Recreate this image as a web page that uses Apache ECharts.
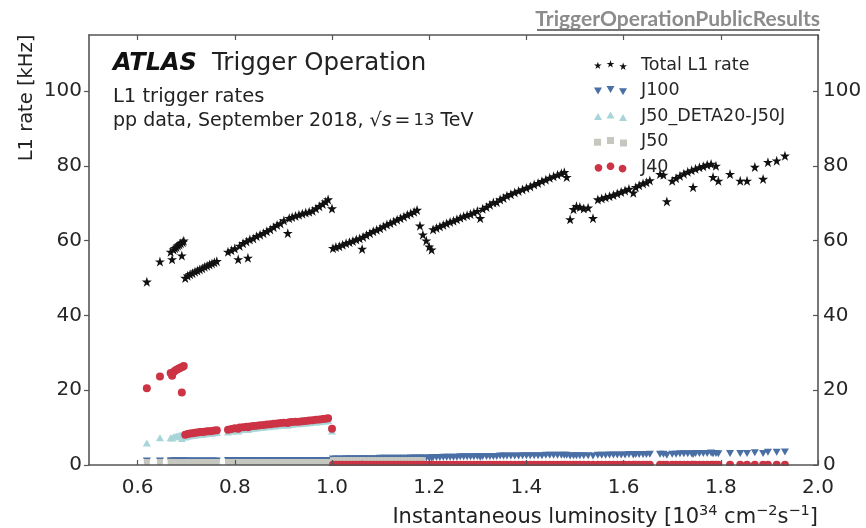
<!DOCTYPE html>
<html><head><meta charset="utf-8">
<script src="https://cdn.jsdelivr.net/npm/echarts@6/dist/echarts.min.js"></script>
<style>html,body{margin:0;padding:0;background:#fff}#c{width:866px;height:528px}</style>
</head><body><div id="c"></div>
<script>
// ---- data ----
const lumi = [
 0.619,0.646,0.668,0.671,0.674,0.677,0.680,0.683,0.686,0.689,0.691,0.693,0.695,
 0.698,0.703,0.708,0.713,0.718,0.723,0.728,0.733,0.738,0.743,0.748,0.753,0.758,0.763,
 0.786,0.793,0.800,0.807,0.810,0.817,0.824,0.827,0.831,0.838,0.845,0.852,0.859,0.866,0.873,0.880,0.887,0.894,0.901,0.909,0.912,0.918,0.925,0.932,0.939,0.946,0.953,0.960,0.967,0.974,0.981,0.987,0.992,1.000,
 1.002,1.008,1.015,1.022,1.029,1.036,1.043,1.050,1.057,1.062,1.064,1.071,1.078,1.085,1.092,1.099,1.106,1.113,1.120,1.127,1.134,1.141,1.148,1.155,1.162,1.169,1.175,
 1.181,1.187,1.194,1.200,1.205,
 1.208,1.215,1.222,1.229,1.236,1.243,1.250,1.257,1.264,1.271,1.278,1.285,1.292,1.299,1.305,1.310,1.318,1.325,1.332,1.339,1.346,1.353,1.360,1.368,1.376,1.384,1.392,1.400,1.408,1.416,1.424,1.432,1.440,1.448,1.456,1.464,1.472,1.478,1.483,
 1.490,1.497,1.503,1.510,1.518,1.527,1.537,
 1.547,1.555,1.563,1.571,1.579,1.587,1.595,1.603,1.611,1.620,1.625,1.632,1.640,1.647,1.654,1.675,1.682,1.689,
 1.700,1.708,1.716,1.724,1.732,1.740,1.743,1.748,1.756,1.764,1.772,1.780,1.784,1.790,1.795,1.819,1.840,1.854,1.870,1.887,1.897,1.915,1.932
];
const totalL1 = [
 49.0,54.4,57.0,55.0,57.6,58.0,58.3,58.7,59.0,59.3,56.0,59.6,60.0,
 50.0,50.6,51.0,51.3,51.7,52.0,52.3,52.6,53.0,53.3,53.6,53.9,54.2,54.5,
 57.0,57.4,57.9,55.0,58.6,59.3,59.8,55.4,60.3,60.6,61.2,61.6,62.0,62.5,63.0,63.6,64.2,64.6,65.4,62.0,66.0,66.3,66.6,66.9,67.2,67.5,67.7,68.0,68.6,69.2,69.8,70.4,71.0,68.6,
 58.0,58.3,58.5,58.9,59.3,59.6,59.9,60.3,60.6,57.8,61.0,61.5,62.0,62.5,62.9,63.3,63.8,64.3,64.7,65.1,65.6,66.0,66.4,66.9,67.3,67.7,68.2,
 64.0,61.6,60.0,58.4,57.6,
 63.0,63.4,63.8,64.2,64.6,65.0,65.3,65.7,66.1,66.5,66.8,67.1,67.5,67.9,66.0,68.5,69.0,69.6,70.2,70.3,71.0,71.4,72.0,72.4,72.9,73.3,73.7,74.1,74.5,75.0,75.4,75.9,76.3,76.8,77.2,77.6,78.0,78.3,77.0,
 65.7,68.4,69.2,69.0,68.6,68.8,66.0,
 71.0,71.3,71.6,71.9,72.2,72.6,73.0,73.4,73.8,72.8,74.3,74.8,75.3,75.6,76.1,77.8,77.6,70.5,
 76.0,76.7,77.3,77.9,78.4,78.8,74.3,79.2,79.6,79.9,80.3,80.5,77.0,80.0,76.0,77.8,76.0,76.0,79.7,76.5,81.0,81.4,82.7
];
const j100 = [
 1.1,1.1,1.1,1.1,1.1,1.1,1.1,1.1,1.1,1.1,1.1,1.1,1.1,
 1.1,1.1,1.1,1.1,1.1,1.1,1.1,1.1,1.1,1.1,1.1,1.1,1.1,1.1,
 1.2,1.2,1.2,1.2,1.2,1.2,1.2,1.2,1.2,1.2,1.2,1.2,1.2,1.2,1.2,1.2,1.2,1.2,1.2,1.2,1.2,1.2,1.2,1.2,1.2,1.2,1.2,1.2,1.2,1.2,1.2,1.2,1.2,1.2,
 1.6,1.6,1.6,1.6,1.7,1.7,1.7,1.7,1.7,1.6,1.7,1.7,1.7,1.7,1.7,1.8,1.8,1.8,1.8,1.8,1.8,1.8,1.8,1.8,1.9,1.9,1.9,
 1.9,1.9,1.9,1.9,1.9,
 2.0,2.0,2.0,2.1,2.1,2.1,2.1,2.1,2.2,2.2,2.2,2.2,2.2,2.3,2.1,2.3,2.3,2.3,2.3,2.3,2.4,2.4,2.4,2.4,2.4,2.4,2.5,2.5,2.5,2.5,2.5,2.5,2.6,2.6,2.6,2.6,2.6,2.6,2.6,
 2.4,2.5,2.5,2.5,2.5,2.5,2.4,
 2.6,2.6,2.6,2.7,2.7,2.7,2.7,2.7,2.8,2.7,2.8,2.8,2.8,2.8,2.9,2.9,2.9,2.6,
 2.9,2.9,3.0,3.0,3.0,3.0,2.8,3.1,3.1,3.1,3.1,3.2,3.0,3.1,3.0,3.1,3.1,3.1,3.3,3.1,3.4,3.4,3.5
];
// J50_DETA20-J50J: only the first points (lumi < 1.0) are visible
const j50deta = [
 5.9,7.3,7.3,7.2,7.5,7.6,7.7,7.8,7.9,8.0,7.1,8.1,8.2,
 7.5,7.7,7.8,7.9,8.0,8.1,8.2,8.2,8.3,8.4,8.4,8.5,8.6,8.7,
 8.8,9.0,9.2,9.1,9.4,9.5,9.6,9.5,9.7,9.8,9.9,10.0,10.1,10.2,10.3,10.4,10.5,10.6,10.7,10.6,10.8,10.9,11.0,11.0,11.1,11.2,11.3,11.4,11.5,11.6,11.7,11.8,11.9,9.1
];
// J50: visible up to lumi ~1.19
const j50 = [
 0.8,0.8,0.8,0.8,0.8,0.8,0.8,0.8,0.8,0.8,0.8,0.8,0.8,
 0.8,0.8,0.8,0.8,0.8,0.8,0.8,0.8,0.8,0.8,0.8,0.8,0.8,0.8,
 0.8,0.8,0.8,0.8,0.8,0.8,0.8,0.8,0.8,0.8,0.8,0.8,0.8,0.8,0.8,0.8,0.8,0.8,0.8,0.8,0.8,0.8,0.8,0.8,0.8,0.8,0.8,0.8,0.8,0.8,0.8,0.8,0.8,0.8,
 1.3,1.3,1.3,1.3,1.3,1.3,1.3,1.3,1.3,1.3,1.3,1.3,1.3,1.3,1.3,1.3,1.3,1.3,1.3,1.3,1.3,1.3,1.3,1.3,1.3,1.3,1.3,
 1.3,1.3
];
const j40 = [
 20.5,23.7,24.6,23.9,24.9,25.2,25.5,25.7,25.9,26.1,19.4,26.3,26.5,
 8.1,8.3,8.4,8.5,8.6,8.7,8.8,8.8,8.9,9.0,9.0,9.1,9.2,9.3,
 9.4,9.6,9.8,9.7,10.0,10.1,10.2,10.1,10.3,10.4,10.5,10.6,10.7,10.8,10.9,11.0,11.1,11.2,11.3,11.2,11.4,11.5,11.6,11.6,11.7,11.8,11.9,12.0,12.1,12.2,12.3,12.4,12.5,9.7,
 0.1,0.1,0.1,0.1,0.1,0.1,0.1,0.1,0.1,0.1,0.1,0.1,0.1,0.1,0.1,0.1,0.1,0.1,0.1,0.1,0.1,0.1,0.1,0.1,0.1,0.1,0.1,
 0.1,0.1,0.1,0.1,0.1,
 0.1,0.1,0.1,0.1,0.1,0.1,0.1,0.1,0.1,0.1,0.1,0.1,0.1,0.1,0.1,0.1,0.1,0.1,0.1,0.1,0.1,0.1,0.1,0.1,0.1,0.1,0.1,0.1,0.1,0.1,0.1,0.1,0.1,0.1,0.1,0.1,0.1,0.1,0.1,
 0.1,0.1,0.1,0.1,0.1,0.1,0.1,
 0.1,0.1,0.1,0.1,0.1,0.1,0.1,0.1,0.1,0.1,0.1,0.1,0.1,0.1,0.1,0.1,0.1,0.1,
 0.1,0.1,0.1,0.1,0.1,0.1,0.1,0.1,0.1,0.1,0.1,0.1,0.1,0.1,0.1,0.1,0.1,0.1,0.1,0.1,0.1,0.1,0.1
];
const xTicks = [0.6, 0.8, 1.0, 1.2, 1.4, 1.6, 1.8, 2.0];
const yTicks = [0, 20, 40, 60, 80, 100];
const seriesNames = ['Total L1 rate', 'J100', 'J50_DETA20-J50J', 'J50', 'J40'];

// ---- marker shapes ----
function starPts(cx, cy, r) {
  let s = '';
  for (let k = 0; k < 10; k++) {
    const a = (-90 + k * 36) * Math.PI / 180;
    const rr = k % 2 ? r * 0.382 : r;
    s += (k ? 'L' : 'M') + (cx + rr * Math.cos(a)).toFixed(2) + ',' + (cy + rr * Math.sin(a)).toFixed(2);
  }
  return s + 'Z';
}
function triDown(cx, cy, r) { return 'M' + (cx - r) + ',' + (cy - r * 0.75) + 'L' + (cx + r) + ',' + (cy - r * 0.75) + 'L' + cx + ',' + (cy + r) + 'Z'; }
function triUp(cx, cy, r) { return 'M' + (cx - r) + ',' + (cy + r * 0.75) + 'L' + (cx + r) + ',' + (cy + r * 0.75) + 'L' + cx + ',' + (cy - r) + 'Z'; }
function sq(cx, cy, r) { r *= 0.85; return 'M' + (cx - r) + ',' + (cy - r) + 'L' + (cx + r) + ',' + (cy - r) + 'L' + (cx + r) + ',' + (cy + r) + 'L' + (cx - r) + ',' + (cy + r) + 'Z'; }
function circ(cx, cy, r) {
  let s = '';
  for (let k = 0; k < 20; k++) { const a = k / 20 * 2 * Math.PI; s += (k ? 'L' : 'M') + (cx + r * Math.cos(a)).toFixed(2) + ',' + (cy + r * Math.sin(a)).toFixed(2); }
  return s + 'Z';
}
function triple(fn) {
  const offs = [[4, 5.8], [16.5, 4.2], [29, 6.6]];
  return 'path://' + offs.map(o => fn(o[0], o[1], 4)).join('');
}
const colors = ['#111111', '#4a6fa5', '#a8d5d8', '#c6c8c0', '#cc3344'];
const shapes = [starPts, triDown, triUp, sq, circ];

function pairs(vals) {
  const out = [];
  vals.forEach((v, i) => { if (v != null && i < lumi.length) out.push([lumi[i], v]); });
  return out;
}
const seriesVals = [totalL1, j100, j50deta, j50, j40];
const symbols = [
  { symbol: 'path://' + starPts(0, 0, 10), symbolSize: 10 },
  { symbol: 'path://' + triDown(0, 0, 10), symbolSize: [8, 7] },
  { symbol: 'path://' + triUp(0, 0, 10), symbolSize: [8, 7] },
  { symbol: 'rect', symbolSize: 6 },
  { symbol: 'circle', symbolSize: 8 }
];

const FONT = 'DejaVu Sans';
const axisCol = '#555';
const chart = echarts.init(document.getElementById('c'), null, { renderer: 'canvas' });
const xBase = {
  type: 'value', min: 0.5, max: 2.0,
  axisLine: { show: true, onZero: false, lineStyle: { color: axisCol, width: 1.6 } },
  axisTick: { show: true, inside: true, length: 5, customValues: xTicks, lineStyle: { color: axisCol, width: 1.2 } },
  splitLine: { show: false }, z: 3
};
const yBase = {
  type: 'value', min: 0, max: 115,
  axisLine: { show: true, onZero: false, lineStyle: { color: axisCol, width: 1.6 } },
  splitLine: { show: false }
};
chart.setOption({
  animation: false,
  backgroundColor: '#fff',
  grid: { left: 89, right: 48, top: 35, bottom: 63 },
  xAxis: [
    Object.assign({}, xBase, { position: 'bottom',
      axisLabel: { customValues: xTicks, formatter: v => v.toFixed(1), fontFamily: FONT, fontSize: 20, color: '#262626', margin: 13 } }),
    Object.assign({}, xBase, { position: 'top', axisLabel: { show: false } })
  ],
  yAxis: [
    Object.assign({}, yBase, { position: 'left',
      axisTick: { show: true, inside: false, length: 5, customValues: yTicks, lineStyle: { color: axisCol, width: 1.2 } },
      axisLabel: { customValues: yTicks, fontFamily: FONT, fontSize: 20, color: '#262626', margin: 7 } }),
    Object.assign({}, yBase, { position: 'right',
      axisTick: { show: true, inside: true, length: 5, customValues: yTicks, lineStyle: { color: axisCol, width: 1.2 } },
      axisLabel: { customValues: yTicks, fontFamily: FONT, fontSize: 20, color: '#262626', margin: 5 } })
  ],
  legend: {
    orient: 'vertical', left: 589, top: 50,
    itemWidth: 33, itemHeight: 10, itemGap: 5.6,
    textStyle: { fontFamily: FONT, fontSize: 17.5, color: '#262626', lineHeight: 20, padding: [0, 0, 0, 9] },
    data: seriesNames.map((n, i) => ({ name: n, icon: triple(shapes[i]) }))
  },
  series: seriesNames.map((n, i) => ({
    name: n, type: 'scatter', xAxisIndex: 0, yAxisIndex: 0,
    symbol: symbols[i].symbol, symbolSize: symbols[i].symbolSize,
    itemStyle: { color: colors[i], opacity: 1 },
    emphasis: { disabled: true },
    data: pairs(seriesVals[i])
  })),
  graphic: [
    // white band under the plot frame so markers sitting on the x axis look clipped by the axes box
    { type: 'rect', z: 100, shape: { x: 86, y: 466, width: 736, height: 7 }, style: { fill: '#fff' } },
    { type: 'text', x: 113, y: 64, style: { text: 'ATLAS', font: 'italic bold 24px "DejaVu Sans"', fill: '#111', verticalAlign: 'middle' } },
    { type: 'text', x: 212, y: 64, style: { text: 'Trigger Operation', font: '24.5px "DejaVu Sans"', fill: '#222', verticalAlign: 'middle' } },
    { type: 'text', x: 113, y: 97, style: { text: 'L1 trigger rates', font: '19.5px "DejaVu Sans"', fill: '#222', verticalAlign: 'middle' } },
    { type: 'text', x: 113, y: 121, style: {
        text: '{n|pp data, September 2018, }{n|√}{i|s}{e|=}{m|13}{n| TeV}', verticalAlign: 'middle', fill: '#222',
        rich: { n: { fontFamily: FONT, fontSize: 19, fill: '#222' }, i: { fontFamily: FONT, fontStyle: 'italic', fontSize: 19, fill: '#222' },
                e: { fontFamily: FONT, fontSize: 19, fill: '#222', padding: [0, 3, 0, 3] }, m: { fontFamily: FONT, fontSize: 16.5, fill: '#222' } } } },
    { type: 'text', x: 27, y: 98, rotation: Math.PI / 2, style: { text: 'L1 rate [kHz]', font: '19.5px "DejaVu Sans"', fill: '#222', align: 'center', verticalAlign: 'middle' } },
    { type: 'text', x: 818, y: 516, style: {
        text: '{n|Instantaneous luminosity [10}{s|34}{n| cm}{s|−2}{n|s}{s|−1}{n|]}', align: 'right', verticalAlign: 'middle',
        rich: { n: { fontFamily: FONT, fontSize: 21, fill: '#222', lineHeight: 24, verticalAlign: 'bottom' }, s: { fontFamily: FONT, fontSize: 14.5, fill: '#222', lineHeight: 24, verticalAlign: 'top', padding: [0, 0, 7, 0] } } } },
    { type: 'text', x: 820, y: 19, style: { text: 'TriggerOperationPublicResults', font: 'bold 21px Lato', fill: '#8c8c8c', align: 'right', verticalAlign: 'middle' } },
    { type: 'line', shape: { x1: 537, y1: 30, x2: 820, y2: 30 }, style: { stroke: '#777', lineWidth: 2 } }
  ]
});
</script></body></html>
